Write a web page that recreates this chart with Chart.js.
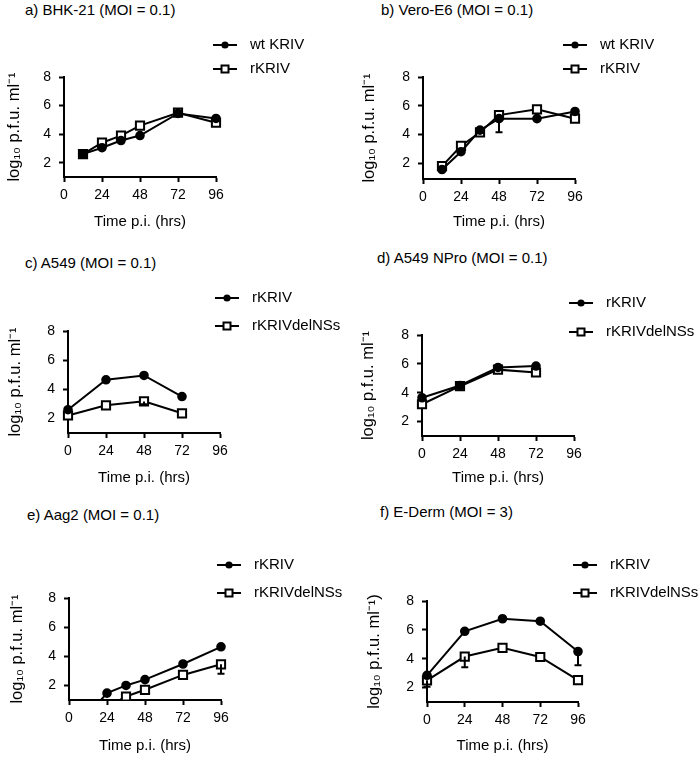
<!DOCTYPE html>
<html lang="en">
<head>
<meta charset="UTF-8">
<title>KRIV growth curves</title>
<script src="https://cdn.jsdelivr.net/npm/chart.js"></script>
<style>
  body { margin: 0; background: #fff; font-family: "Liberation Sans", Arial, sans-serif; }
  #fig { position: relative; width: 700px; height: 758px; overflow: hidden; }
  #fig canvas { position: absolute; }
  .head { position: absolute; font-size: 15px; line-height: 18px; color: #000; white-space: nowrap; }
</style>
</head>
<body>
<div id="fig"></div>
<script>
// axis ticks
const timeTicks = [0, 24, 48, 72, 96];
const titerTicks = [2, 4, 6, 8];

// a) BHK-21
const bhkHours = [12, 24, 36, 48, 72, 96];
const bhkWt = [2.6, 3.05, 3.55, 3.9, 5.45, 5.1];
const bhkRec = [2.6, 3.4, 3.9, 4.6, 5.5, 4.8];

// b) Vero-E6
const veroHours = [12, 24, 36, 48, 72, 96];
const veroWt = [1.56, 2.8, 4.3, 5.1, 5.1, 5.6];
const veroWtErr = [0, 0, 0, 0.95, 0, 0];
const veroRec = [1.8, 3.2, 4.15, 5.35, 5.75, 5.1];

// c) A549
const a549Hours = [0, 24, 48, 72];
const a549Rec = [2.6, 4.65, 4.95, 3.5];
const a549Del = [2.2, 2.9, 3.17, 2.35];
const a549DelErr = [0, 0, 0.2, 0];

// d) A549 NPro
const nproHours = [0, 24, 48, 72];
const nproRec = [3.65, 4.5, 5.75, 5.85];
const nproDel = [3.2, 4.45, 5.6, 5.4];

// e) Aag2 (first points sit below the axis and get clipped)
const aagRecHours = [12, 24, 36, 48, 72, 96];
const aagRec = [0, 1.47, 2.0, 2.4, 3.47, 4.65];
const aagDelHours = [24, 36, 48, 72, 96];
const aagDel = [0.5, 1.24, 1.7, 2.72, 3.45];
const aagDelErr = [0, 0, 0, 0, 0.65];

// f) E-Derm
const dermHours = [0, 24, 48, 72, 96];
const dermRec = [2.85, 5.9, 6.77, 6.6, 4.5];
const dermRecErr = [0, 0, 0, 0, 0.95];
const dermDel = [2.5, 4.15, 4.75, 4.12, 2.52];
const dermDelErr = [0.45, 0.75, 0, 0, 0];

const labelsWt = ['wt KRIV', 'rKRIV'];
const labelsDel = ['rKRIV', 'rKRIVdelNSs'];

const FONT = '"Liberation Sans", Arial, sans-serif';
const yTitle = 'log\u2081\u2080 p.f.u. ml\u207B\u00B9';

const panels = [
  { title: 'a) BHK-21 (MOI = 0.1)', head: [25, 10], pos: [0, 0, 235],
    area: { l: 64, r: 216, t: 77, b: 177 }, yTitleX: 15, xTitleY: 222, key: [213, 45, 69], yMin: 1, yText: yTitle,
    series: [[labelsWt[0], bhkHours, bhkWt, null, 'circle'], [labelsWt[1], bhkHours, bhkRec, null, 'rect']] },
  { title: 'b) Vero-E6 (MOI = 0.1)', head: [381, 10], pos: [350, 0, 235],
    area: { l: 73, r: 225, t: 77, b: 179 }, yTitleX: 20, xTitleY: 222, key: [213, 45, 69], yMin: 0.9, yText: yTitle,
    series: [[labelsWt[0], veroHours, veroWt, veroWtErr, 'circle'], [labelsWt[1], veroHours, veroRec, null, 'rect']] },
  { title: 'c) A549 (MOI = 0.1)', head: [25, 263], pos: [0, 240, 250],
    area: { l: 68, r: 220, t: 91, b: 193 }, yTitleX: 16, xTitleY: 238, key: [215, 58, 86], yMin: 1, yText: yTitle,
    series: [[labelsDel[0], a549Hours, a549Rec, null, 'circle'], [labelsDel[1], a549Hours, a549Del, a549DelErr, 'rect']] },
  { title: 'd) A549 NPro (MOI = 0.1)', head: [377, 258], pos: [350, 240, 250],
    area: { l: 72, r: 224, t: 95, b: 196 }, yTitleX: 19, xTitleY: 238, key: [219, 63, 92], yMin: 1, yText: yTitle,
    series: [[labelsDel[0], nproHours, nproRec, null, 'circle'], [labelsDel[1], nproHours, nproDel, null, 'rect']] },
  { title: 'e) Aag2 (MOI = 0.1)', head: [27, 515], pos: [0, 490, 268],
    area: { l: 69, r: 221, t: 108, b: 210 }, yTitleX: 18, xTitleY: 256, key: [217, 75, 103], yMin: 1, yText: yTitle,
    series: [[labelsDel[0], aagRecHours, aagRec, null, 'circle'], [labelsDel[1], aagDelHours, aagDel, aagDelErr, 'rect']] },
  { title: 'f) E-Derm (MOI = 3)', head: [380, 512], pos: [350, 490, 268],
    area: { l: 77, r: 228, t: 111, b: 212 }, yTitleX: 25, xTitleY: 256, key: [223, 75, 103], yMin: 1, yText: yTitle + ')',
    series: [[labelsDel[0], dermHours, dermRec, dermRecErr, 'circle'], [labelsDel[1], dermHours, dermDel, dermDelErr, 'rect']] }
];

function drawMarker(ctx, style, x, y) {
  ctx.save();
  ctx.lineWidth = 2;
  ctx.strokeStyle = '#000';
  if (style === 'circle') {
    ctx.fillStyle = '#000';
    ctx.beginPath();
    ctx.arc(x, y, 3.6, 0, Math.PI * 2);
    ctx.fill();
  } else {
    ctx.fillStyle = '#fff';
    ctx.fillRect(x - 3.5, y - 3.5, 7, 7);
    ctx.strokeRect(x - 3.5, y - 3.5, 7, 7);
  }
  ctx.restore();
}

// legend: line with marker, then label
const lineKey = {
  id: 'lineKey',
  afterDraw(chart, args, opts) {
    const ctx = chart.ctx;
    const [x, ...rows] = opts.at;
    chart.data.datasets.forEach((ds, i) => {
      const y = rows[i];
      ctx.save();
      ctx.strokeStyle = '#000';
      ctx.lineWidth = 2;
      ctx.beginPath();
      ctx.moveTo(x, y);
      ctx.lineTo(x + 24, y);
      ctx.stroke();
      drawMarker(ctx, ds.pointStyle, x + 12, y);
      ctx.fillStyle = '#000';
      ctx.font = '15px ' + FONT;
      ctx.textBaseline = 'middle';
      ctx.fillText(ds.label, x + 37, y);
      ctx.restore();
    });
  }
};

// lower error bars with caps
const errBars = {
  id: 'errBars',
  afterDatasetsDraw(chart) {
    const ctx = chart.ctx;
    const xs = chart.scales.x, ys = chart.scales.y;
    chart.data.datasets.forEach(ds => {
      if (!ds.err) return;
      ds.data.forEach((p, i) => {
        const e = ds.err[i];
        if (!e) return;
        const px = xs.getPixelForValue(p.x);
        const y1 = ys.getPixelForValue(p.y);
        const y2 = ys.getPixelForValue(p.y - e);
        ctx.save();
        ctx.strokeStyle = '#000';
        ctx.lineWidth = 2;
        ctx.beginPath();
        ctx.moveTo(px, y1);
        ctx.lineTo(px, y2);
        ctx.moveTo(px - 3.5, y2);
        ctx.lineTo(px + 3.5, y2);
        ctx.stroke();
        ctx.restore();
      });
    });
  }
};

const fig = document.getElementById('fig');

panels.forEach(p => {
  const [left, top, h] = p.pos;
  const head = document.createElement('div');
  head.className = 'head';
  head.textContent = p.title;
  head.style.left = p.head[0] + 'px';
  head.style.top = (p.head[1] - 9) + 'px';
  fig.appendChild(head);

  const canvas = document.createElement('canvas');
  canvas.width = 350;
  canvas.height = h;
  canvas.style.left = left + 'px';
  canvas.style.top = top + 'px';
  fig.appendChild(canvas);

  const a = p.area;
  const padLeft = p.yTitleX - 10;
  const xAxisH = p.xTitleY - a.b + 9;

  const datasets = p.series.map(([label, hrs, vals, err, style]) => ({
    label,
    data: hrs.map((hr, i) => ({ x: hr, y: vals[i] })),
    err,
    borderColor: '#000',
    borderWidth: 2,
    tension: 0,
    pointStyle: style,
    pointRadius: style === 'circle' ? 3.8 : 5.8,
    pointBorderWidth: 2,
    pointBorderColor: '#000',
    pointBackgroundColor: style === 'circle' ? '#000' : '#fff',
    clip: { left: 12, right: 12, top: 12, bottom: 0 }
  }));

  new Chart(canvas, {
    type: 'line',
    data: { datasets },
    options: {
      responsive: false,
      animation: false,
      devicePixelRatio: 1,
      layout: { padding: { left: padLeft, right: 350 - a.r, top: a.t, bottom: h - a.b - xAxisH } },
      plugins: {
        legend: { display: false },
        tooltip: { enabled: false },
        lineKey: { at: p.key }
      },
      scales: {
        x: {
          type: 'linear', min: 0, max: 96,
          afterBuildTicks: s => { s.ticks = timeTicks.map(v => ({ value: v })); },
          afterFit: s => { s.height = xAxisH; },
          border: { display: true, color: '#000', width: 2 },
          grid: { display: true, drawOnChartArea: false, drawTicks: true, tickLength: 5, tickWidth: 2, tickColor: '#000' },
          ticks: { color: '#000', font: { family: FONT, size: 14 }, padding: 5, maxRotation: 0 },
          title: { display: true, text: 'Time p.i. (hrs)', color: '#000', font: { family: FONT, size: 15 }, padding: 0 }
        },
        y: {
          type: 'linear', min: p.yMin, max: 8,
          afterBuildTicks: s => { s.ticks = titerTicks.map(v => ({ value: v })); },
          afterFit: s => { s.width = a.l - padLeft; },
          border: { display: true, color: '#000', width: 2 },
          grid: { display: true, drawOnChartArea: false, drawTicks: true, tickLength: 5, tickWidth: 2, tickColor: '#000' },
          ticks: { color: '#000', font: { family: FONT, size: 14 }, padding: 8 },
          title: { display: true, text: p.yText, color: '#000', font: { family: FONT, size: 16.5 }, padding: 0 }
        }
      }
    },
    plugins: [errBars, lineKey]
  });
});
</script>
</body>
</html>
